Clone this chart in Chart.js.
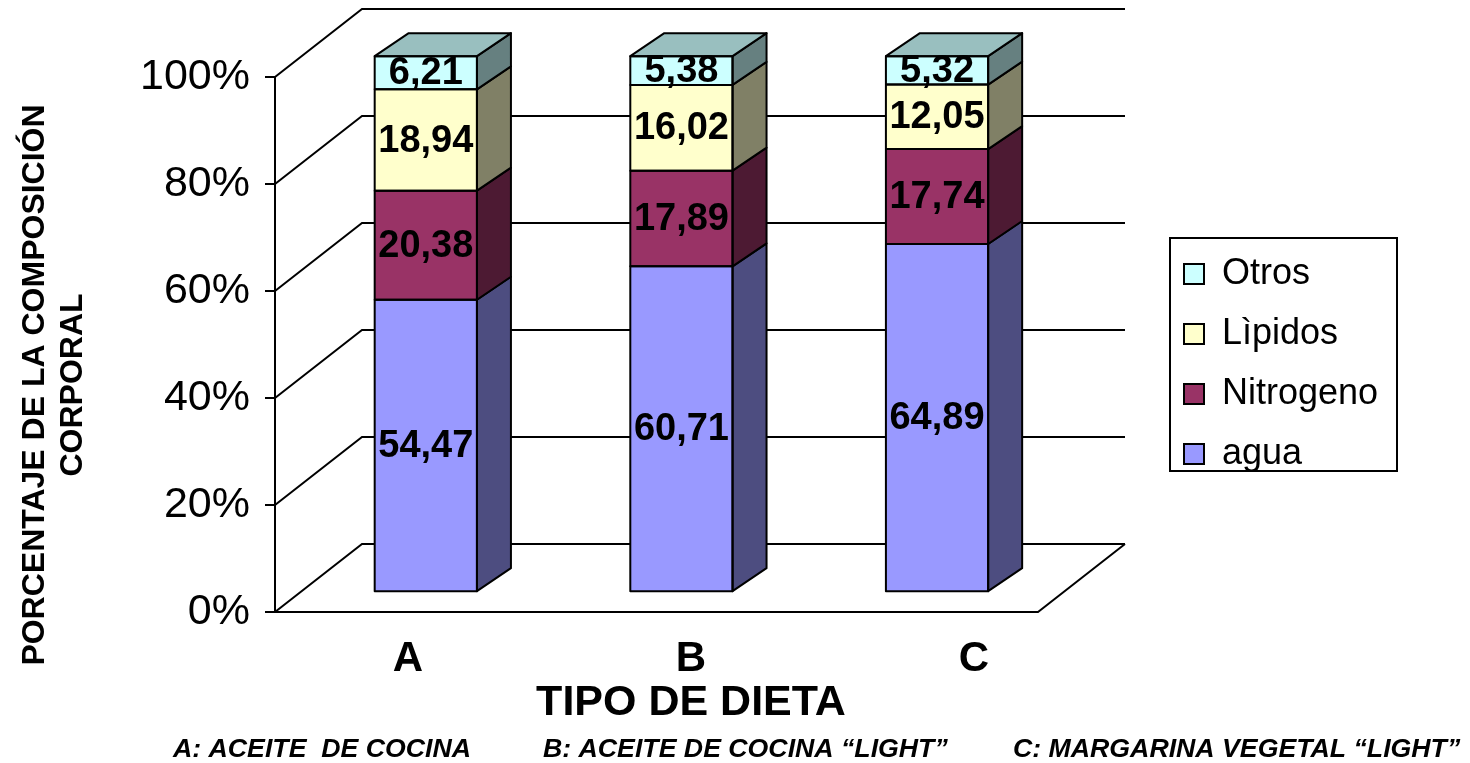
<!DOCTYPE html>
<html>
<head>
<meta charset="utf-8">
<script src="https://cdn.jsdelivr.net/npm/chart.js@4.4.1/dist/chart.umd.min.js"></script>
<style>
  html, body { margin: 0; padding: 0; background: #ffffff; }
  canvas { display: block; background: #ffffff; }
</style>
</head>
<body>
<canvas id="chart" width="1470" height="763"></canvas>
<script>
// ---- data -------------------------------------------------------------
const categories = ['A', 'B', 'C'];
const seriesNames = ['agua', 'Nitrogeno', 'Lìpidos', 'Otros'];
const agua      = [54.47, 60.71, 64.89];
const nitrogeno = [20.38, 17.89, 17.74];
const lipidos   = [18.94, 16.02, 12.05];
const otros     = [6.21, 5.38, 5.32];
const percentTicks = [0, 20, 40, 60, 80, 100];
const yTitleLines = ['PORCENTAJE DE LA COMPOSICIÓN', 'CORPORAL'];
const xTitle = 'TIPO DE DIETA';
const notes = ['A: ACEITE  DE COCINA', 'B: ACEITE DE COCINA \u201CLIGHT\u201D', 'C: MARGARINA VEGETAL \u201CLIGHT\u201D'];

// ---- styling ----------------------------------------------------------
const FONT = "'Liberation Sans', Arial, Helvetica, sans-serif";
const frontColors = ['#9999FF', '#993366', '#FFFFCC', '#CCFFFF'];
const WALL = { dx: 87, dy: -68 };      // receding offset of walls and floor
const BAR = { dx: 34, dy: -23 };       // depth of each column
const LEGEND_FRAME = { left: 1170, top: 238, right: 1397, bottom: 471 };
const LEGEND_PAD = 24;

function shade(hex, f) {
  const n = parseInt(hex.slice(1), 16);
  const r = Math.round(((n >> 16) & 255) * f);
  const g = Math.round(((n >> 8) & 255) * f);
  const b = Math.round((n & 255) * f);
  return 'rgb(' + r + ',' + g + ',' + b + ')';
}
function fmt(v) { return v.toFixed(2).replace('.', ','); }
const categoryTicks = s => { s.ticks = categories.map((c, i) => ({ value: i })); };

const seriesValues = [agua, nitrogeno, lipidos, otros];
const datasets = seriesValues.map((vals, k) => ({
  label: seriesNames[k],
  data: vals.map((v, i) => ({ x: i, y: v })),
  backgroundColor: frontColors[k],
  borderWidth: 0,
  xAxisID: 'xb',
  yAxisID: 'yb',
  clip: false,
  categoryPercentage: 0.8,
  barPercentage: 0.5
}));

function poly(ctx, pts, fill) {
  ctx.beginPath();
  ctx.moveTo(pts[0][0], pts[0][1]);
  for (let i = 1; i < pts.length; i++) ctx.lineTo(pts[i][0], pts[i][1]);
  ctx.closePath();
  ctx.fillStyle = fill;
  ctx.fill();
  ctx.stroke();
}

const pseudo3d = {
  id: 'pseudo3d',
  afterLayout(chart) {
    // place the legend inside its framed box at the right
    const lg = chart.legend;
    lg.left = LEGEND_FRAME.left + 14 - LEGEND_PAD;
    lg.top = LEGEND_FRAME.top + 18 - LEGEND_PAD;
    lg.right = LEGEND_FRAME.right;
    lg.bottom = LEGEND_FRAME.bottom + 120;
    lg.width = lg.right - lg.left;
    lg.height = lg.bottom - lg.top;
  },
  beforeDatasetsDraw(chart) {
    // back wall gridlines, side wall diagonals and floor
    const ctx = chart.ctx;
    const { left, right } = chart.chartArea;
    const ys = chart.scales.y;
    ctx.save();
    ctx.strokeStyle = '#000';
    ctx.lineWidth = 2;
    ys.ticks.forEach(t => {
      const py = ys.getPixelForValue(t.value);
      ctx.beginPath();
      ctx.moveTo(left, py);
      ctx.lineTo(left + WALL.dx, py + WALL.dy);
      ctx.lineTo(right + WALL.dx, py + WALL.dy);
      ctx.stroke();
    });
    const p0 = ys.getPixelForValue(0);
    ctx.beginPath();
    ctx.moveTo(left, p0);
    ctx.lineTo(right, p0);
    ctx.lineTo(right + WALL.dx, p0 + WALL.dy);
    ctx.stroke();
    ctx.restore();
  },
  afterDatasetsDraw(chart) {
    const ctx = chart.ctx;
    const n = chart.data.datasets.length;
    ctx.save();
    ctx.strokeStyle = '#000';
    ctx.lineWidth = 2;
    ctx.lineJoin = 'round';
    const labels = [];
    chart.data.datasets.forEach((ds, k) => {
      const meta = chart.getDatasetMeta(k);
      meta.data.forEach((bar, i) => {
        const { x, y, base, width } = bar.getProps(['x', 'y', 'base', 'width'], true);
        const L = x - width / 2, R = x + width / 2;
        poly(ctx, [[R, y], [R + BAR.dx, y + BAR.dy], [R + BAR.dx, base + BAR.dy], [R, base]], shade(ds.backgroundColor, 0.5));
        if (k === n - 1) {
          poly(ctx, [[L, y], [L + BAR.dx, y + BAR.dy], [R + BAR.dx, y + BAR.dy], [R, y]], shade(ds.backgroundColor, 0.75));
        }
        ctx.strokeRect(L, y, R - L, base - y);
        labels.push({ x: x, y: (y + base) / 2, text: fmt(ds.data[i].y) });
      });
    });
    ctx.fillStyle = '#000';
    ctx.font = 'bold 38px ' + FONT;
    ctx.textAlign = 'center';
    ctx.textBaseline = 'middle';
    labels.forEach(l => ctx.fillText(l.text, l.x, l.y + 1));
    ctx.restore();
  },
  afterDraw(chart) {
    const ctx = chart.ctx;
    ctx.save();
    // legend frame
    ctx.strokeStyle = '#000';
    ctx.lineWidth = 2;
    ctx.strokeRect(LEGEND_FRAME.left, LEGEND_FRAME.top,
      LEGEND_FRAME.right - LEGEND_FRAME.left, LEGEND_FRAME.bottom - LEGEND_FRAME.top);
    ctx.fillStyle = '#000';
    // value axis title (two lines, rotated)
    ctx.font = 'bold 32px ' + FONT;
    ctx.textAlign = 'center';
    ctx.textBaseline = 'middle';
    [35, 73].forEach((cx, i) => {
      ctx.save();
      ctx.translate(cx, 385);
      ctx.rotate(-Math.PI / 2);
      ctx.fillText(yTitleLines[i], 0, 0);
      ctx.restore();
    });
    // category axis title
    ctx.font = 'bold 43px ' + FONT;
    ctx.textBaseline = 'alphabetic';
    ctx.fillText(xTitle, 691, 715);
    // diet legend line
    ctx.font = 'italic bold 26.7px ' + FONT;
    ctx.textAlign = 'left';
    [173, 543, 1013].forEach((lx, i) => ctx.fillText(notes[i], lx, 757));
    ctx.restore();
  }
};

Chart.defaults.font.family = FONT;
Chart.defaults.color = '#000';

new Chart(document.getElementById('chart'), {
  type: 'bar',
  data: { datasets: datasets },
  options: {
    responsive: false,
    animation: false,
    devicePixelRatio: 1,
    layout: { padding: { left: 0, right: 432, top: 77, bottom: 0 } },
    plugins: {
      tooltip: { enabled: false },
      legend: {
        display: true,
        position: 'chartArea',
        align: 'start',
        reverse: true,
        labels: {
          color: '#000',
          font: { size: 36, family: FONT },
          boxWidth: 20,
          boxHeight: 20,
          padding: LEGEND_PAD,
          generateLabels(chart) {
            const items = Chart.defaults.plugins.legend.labels.generateLabels(chart);
            return items.map(it => Object.assign(it, { lineWidth: 2, strokeStyle: '#000' }));
          }
        }
      }
    },
    scales: {
      xb: {
        type: 'linear', display: false, stacked: true, offset: false,
        min: -0.59, max: 2.395,
        afterBuildTicks: categoryTicks
      },
      yb: {
        type: 'linear', display: false, stacked: true,
        min: -3.9, max: 96.1
      },
      y: {
        type: 'linear', position: 'left', min: 0, max: 100,
        afterBuildTicks: s => { s.ticks = percentTicks.map(v => ({ value: v })); },
        afterFit: s => { s.width = 275; },
        ticks: {
          callback: v => v + '%',
          font: { size: 43, family: FONT },
          color: '#000',
          padding: 15
        },
        grid: { display: true, drawOnChartArea: false, drawTicks: true, tickLength: 10, color: '#000', lineWidth: 2 },
        border: { display: true, color: '#000', width: 2 }
      },
      xl: {
        type: 'linear', position: 'bottom', offset: false, min: -0.47, max: 2.226,
        afterBuildTicks: categoryTicks,
        afterFit: s => { s.height = 151; },
        ticks: {
          callback: v => categories[v],
          font: { size: 42, weight: 'bold', family: FONT },
          color: '#000',
          autoSkip: false, maxRotation: 0, minRotation: 0,
          padding: 22
        },
        grid: { display: false, drawTicks: false, offset: false },
        border: { display: false }
      }
    }
  },
  plugins: [pseudo3d]
});
</script>
</body>
</html>
